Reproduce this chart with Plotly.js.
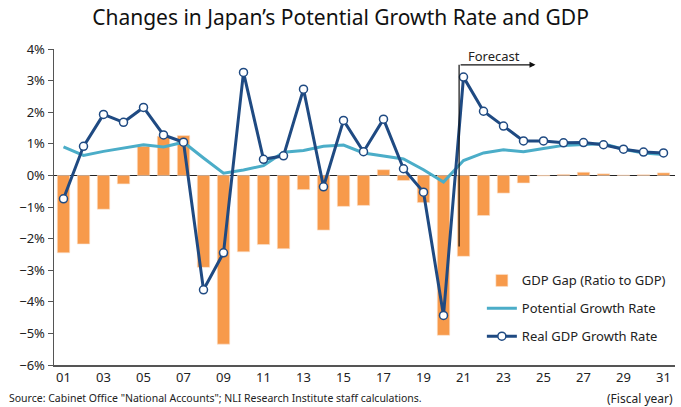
<!DOCTYPE html>
<html>
<head>
<meta charset="utf-8">
<script src="https://cdn.plot.ly/plotly-3.0.1.min.js"></script>
<style>
  html, body { margin: 0; padding: 0; background: #fff; }
  #chart { width: 681px; height: 407px; }
</style>
</head>
<body>
<div id="chart"></div>
<script>
// Fiscal years (2001 .. 2031)
const years = [1,2,3,4,5,6,7,8,9,10,11,12,13,14,15,16,17,18,19,20,21,22,23,24,25,26,27,28,29,30,31];
const tickYears = [1,3,5,7,9,11,13,15,17,19,21,23,25,27,29,31];
const tickLabels = ['01','03','05','07','09','11','13','15','17','19','21','23','25','27','29','31'];
const yTickVals = [4,3,2,1,0,-1,-2,-3,-4,-5,-6];
const yTickLabels = ['4%','3%','2%','1%','0%','\u22121%','\u22122%','\u22123%','\u22124%','\u22125%','\u22126%'];

// GDP gap (ratio to GDP, %)
const gdpGap = [-2.45,-2.17,-1.07,-0.27,0.92,1.24,1.26,-2.91,-5.34,-2.42,-2.19,-2.32,-0.45,-1.73,-0.98,-0.95,0.18,-0.16,-0.86,-5.06,-2.56,-1.27,-0.56,-0.24,-0.02,0.03,0.10,0.05,0.01,0.02,0.08];
// Potential growth rate (%)
const potential = [0.90,0.63,0.76,0.87,0.97,0.90,1.05,0.55,0.07,0.17,0.31,0.73,0.79,0.92,0.96,0.71,0.62,0.52,0.18,-0.21,0.47,0.71,0.81,0.75,0.85,0.95,0.98,1.00,0.83,0.71,0.66];
// Real GDP growth rate (%)
const realGDP = [-0.74,0.92,1.93,1.68,2.15,1.28,1.05,-3.62,-2.45,3.26,0.51,0.62,2.73,-0.36,1.74,0.75,1.78,0.21,-0.53,-4.43,3.11,2.03,1.56,1.09,1.09,1.03,1.04,0.97,0.83,0.74,0.71];

const FONT = '"Noto Sans", "Open Sans", sans-serif';

const traces = [
  {
    type: 'bar', x: years, y: gdpGap, name: 'GDP Gap (Ratio to GDP)',
    marker: { color: '#F79A4B', line: { color: '#FCE3CF', width: 0.6 } },
    width: 0.62, legendgroup: 'a'
  },
  {
    type: 'scatter', mode: 'lines', x: years, y: potential, name: 'Potential Growth Rate',
    line: { color: '#4BADC8', width: 3 }, legendgroup: 'b'
  },
  {
    type: 'scatter', mode: 'lines+markers', x: years, y: realGDP, name: 'Real GDP Growth Rate',
    line: { color: '#1F4A82', width: 3 },
    marker: { symbol: 'circle', size: 8, color: '#FFFFFF', line: { color: '#1F4A82', width: 1.5 } },
    legendgroup: 'c'
  }
];

const layout = {
  width: 681, height: 407,
  margin: { l: 54, r: 6, t: 49, b: 42 },
  paper_bgcolor: '#FFFFFF', plot_bgcolor: '#FFFFFF',
  font: { family: FONT, size: 13, color: '#222222' },
  title: {
    text: 'Changes in Japan\u2019s Potential Growth Rate and GDP',
    font: { family: FONT, size: 21, color: '#111111' },
    x: 0.5, xanchor: 'center', y: 0.975, yanchor: 'top'
  },
  showlegend: true,
  legend: {
    x: 0.689, xanchor: 'left', y: 0.315, yanchor: 'top',
    bgcolor: 'rgba(0,0,0,0)', font: { family: FONT, size: 13, color: '#222' },
    traceorder: 'grouped', tracegroupgap: 8, itemwidth: 30
  },
  bargap: 0.38,
  xaxis: {
    range: [0.525, 31.575],
    tickmode: 'array', tickvals: tickYears, ticktext: tickLabels,
    showgrid: false, zeroline: false,
    showline: true, linecolor: '#555555', linewidth: 1.5,
    ticks: '', tickfont: { family: FONT, size: 13, color: '#222' },
    fixedrange: true
  },
  yaxis: {
    range: [-6, 4],
    tickmode: 'array', tickvals: yTickVals, ticktext: yTickLabels,
    showgrid: false, zeroline: true, zerolinecolor: '#222222', zerolinewidth: 1.5,
    showline: true, linecolor: '#555555', linewidth: 1.5,
    ticks: 'outside', ticklen: 5, tickcolor: '#555555', tickwidth: 1,
    tickfont: { family: FONT, size: 13, color: '#222' },
    fixedrange: true
  },
  shapes: [
    { type: 'line', xref: 'x', yref: 'y', x0: 20.78, x1: 20.78, y0: -2.25, y1: 3.5,
      line: { color: '#111111', width: 1.2 } }
  ],
  annotations: [
    { xref: 'x', yref: 'y', x: 24.6, y: 3.5, ax: 20.78, ay: 3.5, axref: 'x', ayref: 'y',
      text: '', showarrow: true, arrowhead: 2, arrowsize: 1, arrowwidth: 1.2, arrowcolor: '#111111' },
    { xref: 'x', yref: 'y', x: 22.5, y: 3.78, text: 'Forecast', showarrow: false,
      font: { family: FONT, size: 13, color: '#222' } },
    { xref: 'paper', yref: 'paper', x: -0.075, y: -0.105, xanchor: 'left', yanchor: 'middle',
      text: 'Source: Cabinet Office "National Accounts"; NLI Research Institute staff calculations.',
      showarrow: false, font: { family: FONT, size: 10.5, color: '#222' } },
    { xref: 'paper', yref: 'paper', x: 1.0, y: -0.105, xanchor: 'right', yanchor: 'middle',
      text: '(Fiscal year)', showarrow: false, font: { family: FONT, size: 12, color: '#222' } }
  ]
};

Plotly.newPlot('chart', traces, layout, { displayModeBar: false, staticPlot: true });
</script>
</body>
</html>
